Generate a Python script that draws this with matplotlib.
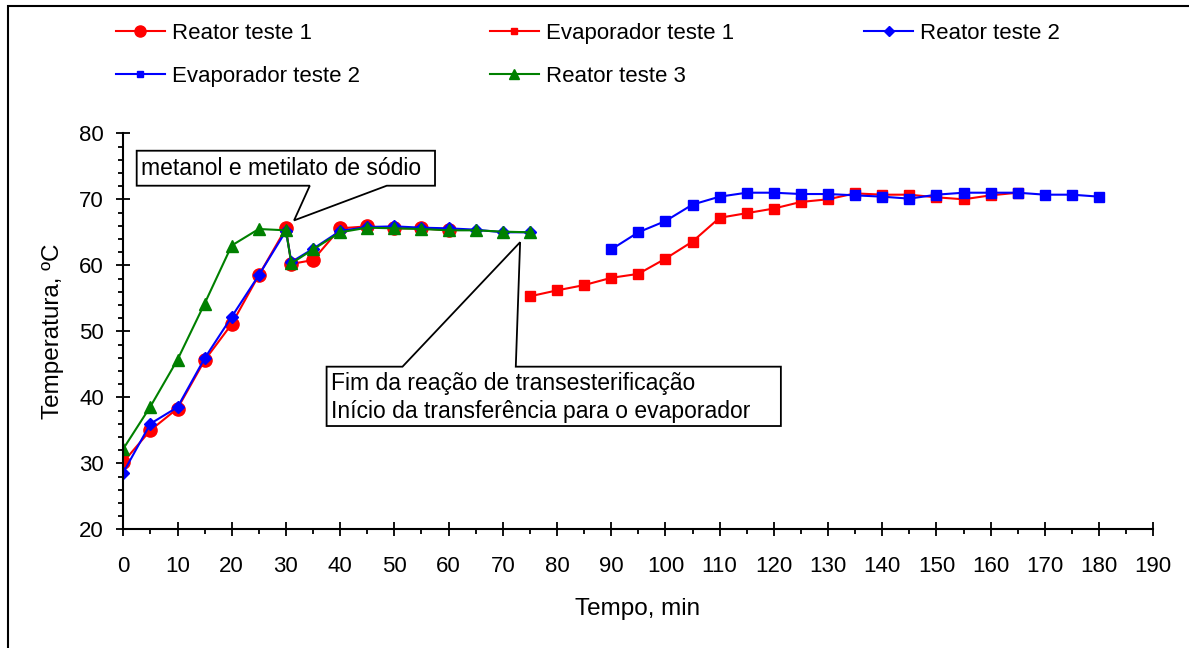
import matplotlib
matplotlib.use("Agg")
import matplotlib.pyplot as plt
from matplotlib.lines import Line2D
from matplotlib.patches import Polygon, Rectangle
from matplotlib.ticker import MultipleLocator

plt.rcParams['font.family'] = ['Liberation Sans', 'DejaVu Sans']

# ---------------- data ----------------
t_reator1 = [0, 5, 10, 15, 20, 25, 30, 31, 35, 40, 45, 50, 55, 60]
T_reator1 = [30.2, 35.0, 38.3, 45.6, 51.1, 58.5, 65.6, 60.2, 60.8, 65.6, 65.9, 65.6, 65.6, 65.3]

t_evap1 = [75, 80, 85, 90, 95, 100, 105, 110, 115, 120, 125, 130, 135, 140, 145, 150, 155, 160, 165]
T_evap1 = [55.3, 56.2, 57.0, 58.1, 58.7, 61.0, 63.6, 67.2, 67.9, 68.6, 69.6, 70.0, 70.9, 70.7,
           70.7, 70.3, 70.0, 70.6, 71.0]

t_reator2 = [0, 5, 10, 15, 20, 25, 30, 31, 35, 40, 45, 50, 55, 60, 65, 70, 75]
T_reator2 = [28.6, 36.0, 38.5, 45.9, 52.2, 58.5, 65.2, 60.5, 62.5, 65.2, 65.8, 65.9, 65.7,
             65.6, 65.4, 65.0, 65.0]

t_evap2 = [90, 95, 100, 105, 110, 115, 120, 125, 130, 135, 140, 145, 150, 155, 160, 165, 170, 175, 180]
T_evap2 = [62.4, 65.0, 66.7, 69.2, 70.4, 71.0, 71.0, 70.8, 70.8, 70.6, 70.4, 70.1, 70.7,
           71.0, 71.0, 71.0, 70.7, 70.7, 70.4]

t_reator3 = [0, 5, 10, 15, 20, 25, 30, 31, 35, 40, 45, 50, 55, 60, 65, 70, 75]
T_reator3 = [32.2, 38.6, 45.7, 54.2, 63.0, 65.5, 65.3, 60.3, 62.4, 65.0, 65.7, 65.6, 65.5,
             65.3, 65.3, 65.1, 65.0]

labels = ["Reator teste 1", "Evaporador teste 1", "Reator teste 2",
          "Evaporador teste 2", "Reator teste 3"]
x_ticks = list(range(0, 200, 10))
y_ticks = list(range(20, 90, 10))

note1 = "metanol e metilato de sódio"
note2 = "Fim da reação de transesterificação\nInício da transferência para o evaporador"

# ---------------- figure ----------------
W, H = 1189, 648
fig = plt.figure(figsize=(W / 100, H / 100), dpi=100)
ax = fig.add_axes([123.3 / W, 1 - 529.3 / H, (1153.3 - 123.3) / W, (529.3 - 133.3) / H])

RED, BLUE, GREEN = "#FF0000", "#0000FF", "#008000"
lw = 1.5
ax.plot(t_reator1, T_reator1, color=RED, lw=lw, marker="o", ms=9.5, mec=RED, mfc=RED)
ax.plot(t_evap1, T_evap1, color=RED, lw=lw, marker="s", ms=6.5, mec=RED, mfc=RED)
ax.plot(t_reator2, T_reator2, color=BLUE, lw=lw, marker="D", ms=6, mec=BLUE, mfc=BLUE)
ax.plot(t_evap2, T_evap2, color=BLUE, lw=lw, marker="s", ms=6.5, mec=BLUE, mfc=BLUE)
ax.plot(t_reator3, T_reator3, color=GREEN, lw=lw, marker="^", ms=8, mec=GREEN, mfc=GREEN)

ax.set_xlim(0, 190)
ax.set_ylim(20, 80)
ax.set_xticks(x_ticks)
ax.set_yticks(y_ticks)
ax.xaxis.set_minor_locator(MultipleLocator(5))
ax.yaxis.set_minor_locator(MultipleLocator(2))
ax.tick_params(which="major", direction="inout", length=10, width=1.3, labelsize=16, colors="black")
ax.tick_params(axis="x", which="major", pad=14)
ax.tick_params(axis="y", which="major", pad=9)
ax.tick_params(which="minor", direction="out", length=3.5, width=1.3)
for s in ["top", "right"]:
    ax.spines[s].set_visible(False)
for s in ["left", "bottom"]:
    ax.spines[s].set_linewidth(1.5)
ax.patch.set_alpha(0)

fig.text(637.5 / W, 1 - 609 / H, "Tempo, min", ha="center", va="center", fontsize=17.5)
fig.text(53 / W, 1 - 331 / H, "Temperatura, ºC", ha="center", va="center", rotation=90, fontsize=17.5)

# callout 1
c1 = [(2.47, 77.36), (57.5, 77.36), (57.5, 72.06), (48.6, 72.06), (31.5, 66.8),
      (34.4, 72.06), (2.47, 72.06)]
ax.add_patch(Polygon(c1, closed=True, fc="white", ec="black", lw=1.3, clip_on=False, zorder=5))
ax.text(3.2, 74.7, note1, ha="left", va="center", fontsize=16.5, zorder=6)

# callout 2
c2 = [(37.5, 44.64), (51.5, 44.64), (73.2, 63.5), (72.4, 44.64), (121.3, 44.64),
      (121.3, 35.65), (37.5, 35.65)]
ax.add_patch(Polygon(c2, closed=True, fc="white", ec="black", lw=1.3, clip_on=False, zorder=5))
ax.text(38.3, 40.0, note2, ha="left", va="center", fontsize=16.5, linespacing=1.25, zorder=6)

# legend
h_r1 = Line2D([], [], color=RED, lw=lw, marker="o", ms=8)
h_e1 = Line2D([], [], color=RED, lw=lw, marker="s", ms=5)
h_r2 = Line2D([], [], color=BLUE, lw=lw, marker="D", ms=5)
h_e2 = Line2D([], [], color=BLUE, lw=lw, marker="s", ms=5)
h_r3 = Line2D([], [], color=GREEN, lw=lw, marker="^", ms=6.5)
handles = [h_r1, h_e2, h_e1, h_r3, h_r2]
labs = [labels[0], labels[3], labels[1], labels[4], labels[2]]
fig.legend(handles, labs, ncol=3, loc="upper left", bbox_to_anchor=(116 / W, 1 - 23 / H),
           frameon=False, fontsize=16, handlelength=2.2, handletextpad=0.3,
           columnspacing=5.87, labelspacing=1.0, borderpad=0, borderaxespad=0)

# outer frame
fig.patches.append(Rectangle((7.5 / W, -0.2), 1.5, 1 - 6 / H + 0.2, transform=fig.transFigure,
                             fill=False, ec="black", lw=1.5))

fig.savefig("out.png", dpi=100)
